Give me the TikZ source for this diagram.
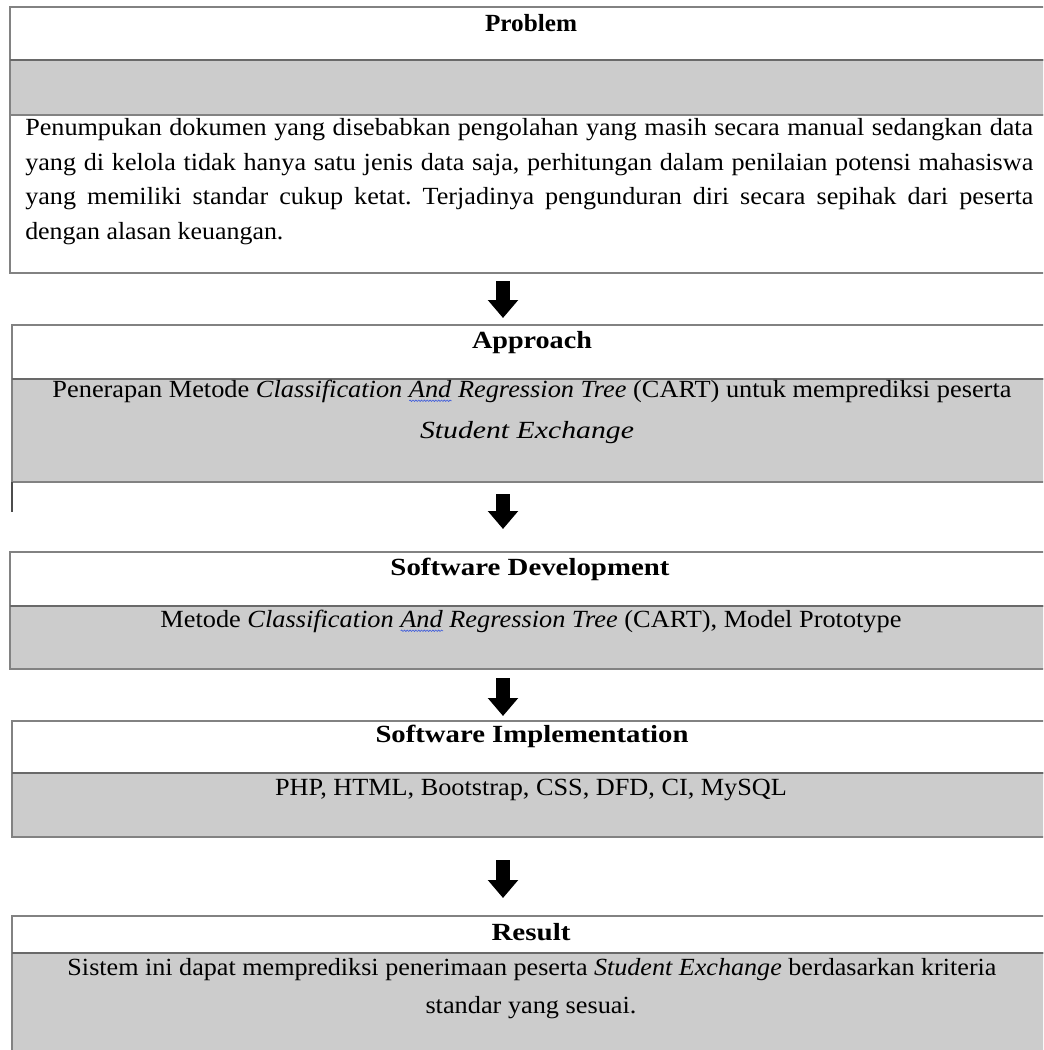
\documentclass[tikz,border=0pt]{standalone}
\usepackage{fontspec}
\setmainfont{Liberation Serif}
\usepackage{graphicx}
\usetikzlibrary{arrows.meta,decorations.pathmorphing}
\frenchspacing
\newdimen\pxu \pxu=0.75pt
\definecolor{boxgray}{RGB}{204,204,204}
\definecolor{edgegray}{RGB}{130,130,130}
\definecolor{sepgray}{RGB}{105,105,105}
\definecolor{spellblue}{RGB}{60,90,220}
\newlength\natw
\newcommand\fitw[2]{\resizebox{#1\pxu}{\height}{#2}}
\newcommand\jline[1]{\settowidth\natw{#1}\ifdim\natw<950\pxu\natw=950\pxu\fi\resizebox{1008\pxu}{\height}{\makebox[\natw][s]{#1}}}
\newsavebox\spbox
\newdimen\spw
\newcommand\spell[1]{\sbox\spbox{#1}\spw=\wd\spbox\rlap{\tikz[baseline=0pt]\draw[spellblue,line width=0.45pt,decorate,decoration={snake,amplitude=0.55pt,segment length=2pt}] (0pt,-2.8pt) -- (\spw,-2.8pt);}\usebox\spbox}
\begin{document}
\begin{tikzpicture}[x=0.75pt,y=-0.75pt,
  font=\fontsize{18.5}{22}\selectfont,
  hdr/.style={draw=edgegray, line width=1.2pt, fill=white, anchor=north west, minimum width=795pt, inner sep=0pt, outer sep=0pt},
  band/.style={hdr, fill=boxgray},
  sepl/.style={draw=sepgray, line width=2pt},
  ttl/.style={anchor=base, inner sep=0pt, font=\fontsize{18.5}{22}\selectfont\bfseries},
  txt/.style={anchor=base, inner sep=0pt},
  blockarrow/.style={line width=10pt, -{Triangle[width=22pt, length=13.5pt]}}]
\useasboundingbox (0,0) rectangle (1043,1050);
\fill[white] (0,0) rectangle (1043,1050);
\begin{scope}
\clip (0,0) rectangle (1043,1050);
% Problem
\node[hdr, minimum height=39.75pt] (ph) at (10,7) {};
\node[band, minimum height=41.25pt] (pb) at (10,60) {};
\node[hdr, minimum height=118.5pt] (pt) at (10,115) {};
\draw[sepl] (ph.south west) -- (ph.south east);
% Approach
\node[hdr, minimum height=40.5pt] (ah) at (12,325) {};
\node[band, minimum height=77.25pt] (ab) at (12,379) {};
\draw[sepl] (ah.south west) -- (ah.south east);
\draw[draw=black!70, line width=1.2pt] (ab.south west) -- ++(0,30);
% Software Development
\node[hdr, minimum height=40.5pt] (dh) at (10,552) {};
\node[band, minimum height=47.25pt] (db) at (10,606) {};
\draw[sepl] (dh.south west) -- (dh.south east);
% Software Implementation
\node[hdr, minimum height=39pt] (ih) at (12,721) {};
\node[band, minimum height=48pt] (ib) at (12,773) {};
\draw[sepl] (ih.south west) -- (ih.south east);
% Result
\node[hdr, minimum height=27.75pt] (rh) at (12,916) {};
\node[band, minimum height=80.25pt] (rb) at (12,953) {};
\draw[sepl] (rh.south west) -- (rh.south east);
\end{scope}
% texts
\node[ttl] (ptitle) at (531,31) {\fitw{92}{Problem}};
\node[txt, anchor=base west] (p1) at (25,135) {\jline{Penumpukan dokumen yang disebabkan pengolahan yang masih secara manual sedangkan data}};
\node[txt, anchor=base west] (p2) at (25,170) {\jline{yang di kelola tidak hanya satu jenis data saja, perhitungan dalam penilaian potensi mahasiswa}};
\node[txt, anchor=base west] (p3) at (25,204) {\jline{yang memiliki standar cukup ketat. Terjadinya pengunduran diri secara sepihak dari peserta}};
\node[txt, anchor=base west] (p4) at (25,239) {\scalebox{1.05}[1]{dengan alasan keuangan.}};
\node[ttl] (atitle) at (532,348) {\fitw{120}{Approach}};
\node[txt] (a1) at (532,397) {\fitw{959}{Penerapan Metode \textit{Classification \spell{And} Regression Tree} (CART) untuk memprediksi peserta}};
\node[txt] (a2) at (527,438) {\fitw{214}{\textit{Student Exchange}}};
\node[ttl] (dtitle) at (530,575) {\fitw{279}{Software Development}};
\node[txt] (d1) at (531,627) {\fitw{741}{Metode \textit{Classification \spell{And} Regression Tree} (CART), Model Prototype}};
\node[ttl] (ititle) at (532,742) {\fitw{313}{Software Implementation}};
\node[txt] (i1) at (531,795) {\fitw{512}{PHP, HTML, Bootstrap, CSS, DFD, CI, MySQL}};
\node[ttl] (rtitle) at (531,940) {\fitw{79}{Result}};
\node[txt] (r1) at (532,975) {\fitw{929}{Sistem ini dapat memprediksi penerimaan peserta \textit{Student Exchange} berdasarkan kriteria}};
\node[txt] (r2) at (531,1013) {\fitw{211}{standar yang sesuai.}};
% arrows
\coordinate (a1s) at (503,281); \coordinate (a1e) at (503,318);
\coordinate (a2s) at (503,494); \coordinate (a2e) at (503,529);
\coordinate (a3s) at (503,678); \coordinate (a3e) at (503,716);
\coordinate (a4s) at (503,860); \coordinate (a4e) at (503,898);
\draw[blockarrow] (a1s) -- (a1e);
\draw[blockarrow] (a2s) -- (a2e);
\draw[blockarrow] (a3s) -- (a3e);
\draw[blockarrow] (a4s) -- (a4e);
\end{tikzpicture}
\end{document}
